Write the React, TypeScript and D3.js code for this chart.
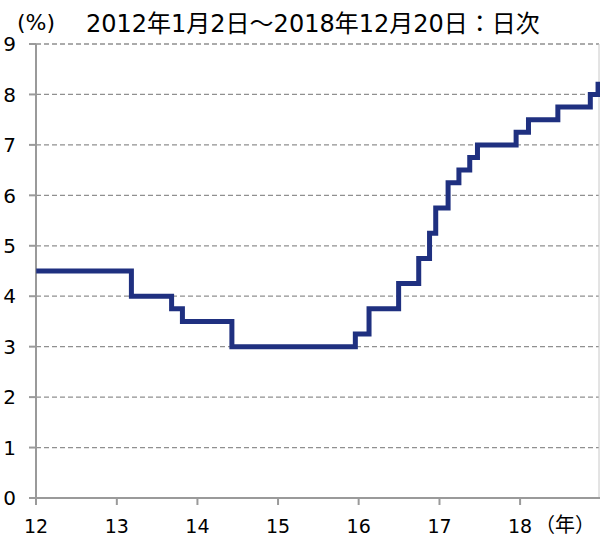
import React from "react";
import * as d3 from "d3";

const stepDates = [
  "2012-01-02", "2013-03-08", "2013-09-06", "2013-10-25", "2014-06-06",
  "2015-12-17", "2016-02-17", "2016-06-30", "2016-09-29", "2016-11-17",
  "2016-12-15", "2017-02-09", "2017-03-30", "2017-05-18", "2017-06-22",
  "2017-12-14", "2018-02-08", "2018-06-21", "2018-11-15", "2018-12-20",
];
const stepRates = [
  4.5, 4.0, 3.75, 3.5, 3.0,
  3.25, 3.75, 4.25, 4.75, 5.25,
  5.75, 6.25, 6.5, 6.75, 7.0,
  7.25, 7.5, 7.75, 8.0, 8.25,
];
const endDate = "2018-12-20";
const yTicks = [0, 1, 2, 3, 4, 5, 6, 7, 8, 9];
const xTickYears = [2012, 2013, 2014, 2015, 2016, 2017, 2018];
const xTickLabels = ["12", "13", "14", "15", "16", "17", "18"];
const title = "2012年1月2日～2018年12月20日：日次";

const W = 600, H = 538;
const FONT = "'DejaVu Sans', Verdana, 'Noto Sans CJK JP', sans-serif";

export default function App() {
  const parse = d3.timeParse("%Y-%m-%d");
  const x = d3.scaleTime()
    .domain([new Date(2012, 0, 1), new Date(2019, 0, 1)])
    .range([36, 600.7]);
  const y = d3.scaleLinear().domain([0, 9]).range([498, 44]);

  const pts: [Date, number][] = stepDates.map((d, i) => [parse(d)!, stepRates[i]]);
  pts.push([parse(endDate)!, stepRates[stepRates.length - 1]]);
  const line = d3.line<[Date, number]>()
    .x((d) => x(d[0]))
    .y((d) => y(d[1]))
    .curve(d3.curveStepAfter);

  const x0 = x.range()[0];
  const x1 = 599;

  return (
    <svg width={W} height={H} style={{ position: "absolute", left: 0, top: 0, background: "#fff" }} fontFamily={FONT}>
      {yTicks.map((t) => (
        <g key={t}>
          {t > 0 && (
            <line x1={x0} x2={x1} y1={y(t)} y2={y(t)} stroke="#909090" strokeWidth={1.3} strokeDasharray="5,3" />
          )}
          <line x1={x0 - 7} x2={x0} y1={y(t)} y2={y(t)} stroke="#9a9a9a" strokeWidth={2} />
          <text x={16} y={y(t)} dy="0.36em" textAnchor="end" fontSize={20} fill="#000">{t}</text>
        </g>
      ))}
      <line x1={x1} x2={x1} y1={y(9)} y2={y(0)} stroke="#c8c8c8" strokeWidth={1} />
      <line x1={x0} x2={x0} y1={y(9)} y2={y(0)} stroke="#9a9a9a" strokeWidth={2} />
      <line x1={x0 - 7} x2={W} y1={y(0)} y2={y(0)} stroke="#9a9a9a" strokeWidth={2} />
      {xTickYears.map((yr, i) => {
        const px = x(new Date(yr, 0, 1));
        return (
          <g key={yr}>
            <line x1={px} x2={px} y1={y(0)} y2={y(0) + 7} stroke="#9a9a9a" strokeWidth={2} />
            <text x={px} y={533} textAnchor="middle" fontSize={19} fill="#000">{xTickLabels[i]}</text>
          </g>
        );
      })}
      <text x={535} y={532} textAnchor="start" fontSize={20} fill="#000">（年）</text>
      <path d={line(pts) || ""} fill="none" stroke="#1f3080" strokeWidth={5} strokeLinejoin="miter" />
      <text x={17} y={30} fontSize={22} fill="#000">(%)</text>
      <text x={86} y={32} fontSize={24} fill="#000">{title}</text>
    </svg>
  );
}
